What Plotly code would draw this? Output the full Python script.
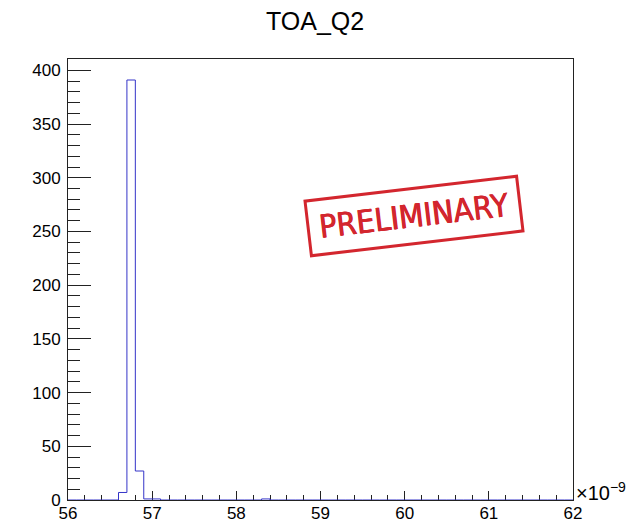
import numpy as np
import plotly.graph_objects as go

# Histogram definition (time of arrival, in units of 1e-9 s)
x_min = 56.0
x_max = 62.0
n_bins = 60
counts = [
    0, 0, 0, 0, 0, 0, 7, 391, 27, 1,
    1, 0, 0, 0, 0, 0, 0, 0, 0, 0,
    0, 0, 0, 1, 0, 0, 0, 0, 0, 0,
    0, 0, 0, 0, 0, 0, 0, 0, 0, 0,
    0, 0, 0, 0, 0, 0, 0, 0, 0, 0,
    0, 0, 0, 0, 0, 0, 0, 0, 0, 0,
]
x_ticks = [56, 57, 58, 59, 60, 61, 62]
y_ticks = [0, 50, 100, 150, 200, 250, 300, 350, 400]
title = "TOA_Q2"
stamp_text = "PRELIMINARY"

edges = np.linspace(x_min, x_max, n_bins + 1)
step_y = list(counts) + [counts[-1]]
y_top = max(counts) * 1.05

font_family = "Liberation Sans, Arial, Helvetica, sans-serif"
axis_color = "#222222"
stamp_red = "#d3262e"

fig = go.Figure()
fig.add_trace(go.Scatter(
    x=edges, y=step_y,
    mode="lines",
    line=dict(color="#3434c8", width=1, shape="hv"),
    hoverinfo="skip",
    showlegend=False,
))

fig.update_layout(
    width=634, height=522,
    margin=dict(l=68, r=61, t=59, b=22, pad=0, autoexpand=False),
    paper_bgcolor="white",
    plot_bgcolor="white",
    font=dict(family=font_family, size=17, color="black"),
    title=dict(
        text=title,
        x=0.497, xanchor="center",
        y=1 - 21 / 522, yanchor="middle",
        yref="container",
        font=dict(family=font_family, size=25, color="black"),
    ),
    showlegend=False,
)

fig.update_xaxes(
    range=[x_min, x_max],
    tickvals=x_ticks,
    ticktext=[str(v) for v in x_ticks],
    ticks="inside", ticklen=9, tickwidth=1, tickcolor=axis_color,
    minor=dict(dtick=0.2, ticks="inside", ticklen=5, tickwidth=1,
               tickcolor=axis_color, showgrid=False),
    showline=True, linecolor=axis_color, linewidth=1, mirror=True,
    showgrid=False, zeroline=False,
    layer="below traces",
    automargin=False,
    tickfont=dict(size=17),
    ticklabelstandoff=-2,
)
fig.update_yaxes(
    range=[0, y_top],
    tickvals=y_ticks,
    ticks="inside", ticklen=23, tickwidth=1, tickcolor=axis_color,
    minor=dict(dtick=10, ticks="inside", ticklen=12, tickwidth=1,
               tickcolor=axis_color, showgrid=False),
    showline=True, linecolor=axis_color, linewidth=1, mirror=True,
    showgrid=False, zeroline=False,
    layer="below traces",
    automargin=False,
    tickfont=dict(size=17),
    ticklabelstandoff=3,
)

# Axis exponent label
fig.add_annotation(
    text="×10<sup>−9</sup>",
    xref="paper", yref="paper",
    x=1.0, y=0.0, xanchor="left", yanchor="bottom",
    xshift=1, yshift=-6,
    showarrow=False,
    font=dict(family=font_family, size=20, color="black"),
)

# Red "PRELIMINARY" stamp
fig.add_annotation(
    text=stamp_text,
    xref="paper", yref="paper",
    x=(414 - 68) / 505, y=(500 - 216) / 441,
    xanchor="center", yanchor="middle",
    showarrow=False,
    textangle=-6.7,
    width=202, height=44,
    borderpad=4,
    bordercolor=stamp_red, borderwidth=3,
    font=dict(family="DejaVu Sans Condensed, Liberation Sans, sans-serif",
              size=32, color=stamp_red,
              shadow=f"0.4px 0 0 {stamp_red}, -0.4px 0 0 {stamp_red}"),
)

fig.write_html("out.html")
